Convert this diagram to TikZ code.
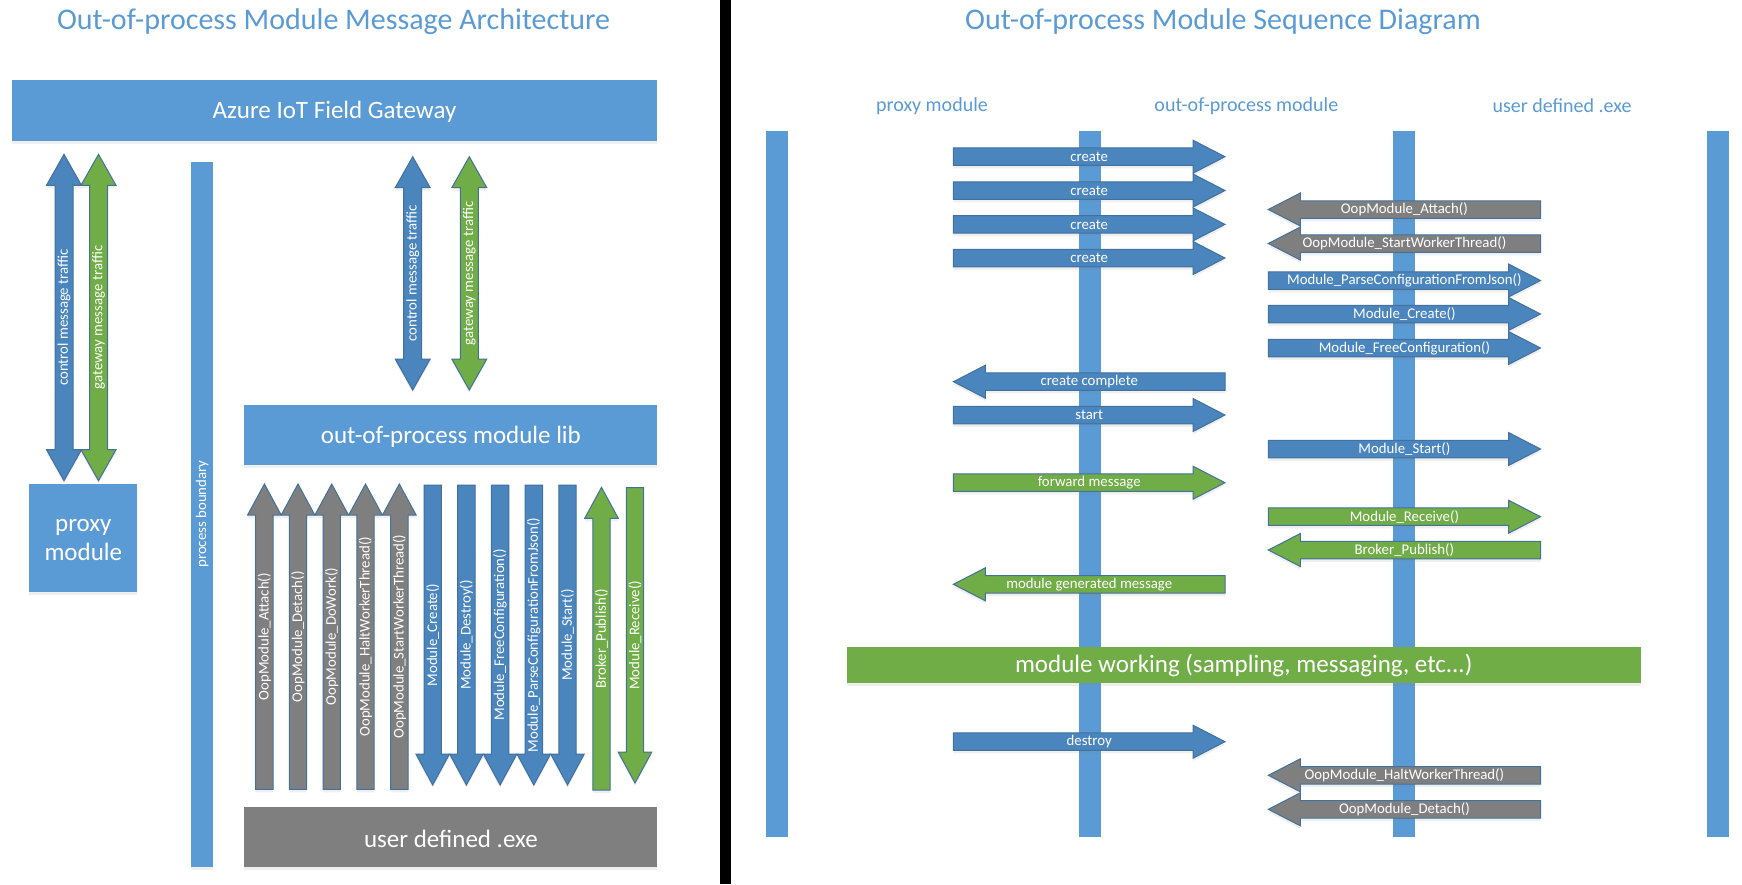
\documentclass[tikz,border=0pt]{standalone}
\usepackage{fontspec}
\setmainfont{Carlito}
\usetikzlibrary{shadows}
\definecolor{lblue}{HTML}{5B9BD5}
\definecolor{ablue}{HTML}{4A85BE}
\definecolor{edgeblue}{HTML}{41719C}
\definecolor{agray}{HTML}{7F7F7F}
\definecolor{agreen}{HTML}{70AD47}
\tikzset{
  arr/.style={draw=edgeblue, line width=1pt, line join=miter,
    drop shadow={opacity=0.12, shadow xshift=0pt, shadow yshift=-3pt}},
  box/.style={fill=lblue, drop shadow={opacity=0.12, shadow xshift=0pt, shadow yshift=-3pt}},
  lbl/.style={text=white, inner sep=0pt, font=\fontsize{14.8}{16}\selectfont},
  big/.style={text=white, inner sep=0pt, font=\fontsize{25}{29}\selectfont, align=center},
  ttl/.style={text=lblue, inner sep=0pt, font=\fontsize{30}{34}\selectfont},
  col/.style={text=lblue, inner sep=0pt, font=\fontsize{20}{23}\selectfont},
  life/.style={fill=lblue}
}
% right-pointing: name, xtail, xtip, y, colour, label
\newcommand\rarr[6]{%
  \filldraw[arr,fill=#5] (#2,#4-8.75) -- ({#3-32},#4-8.75) -- ({#3-32},#4-16.5) -- (#3,#4)
    -- ({#3-32},#4+16.5) -- ({#3-32},#4+8.75) -- (#2,#4+8.75) -- cycle;
  \node[lbl] (#1) at ({(#2+#3)/2},#4) {#6};}
% left-pointing: name, xtip, xtail, y, colour, label
\newcommand\larr[6]{%
  \filldraw[arr,fill=#5] (#3,#4-8.75) -- ({#2+32},#4-8.75) -- ({#2+32},#4-16.5) -- (#2,#4)
    -- ({#2+32},#4+16.5) -- ({#2+32},#4+8.75) -- (#3,#4+8.75) -- cycle;
  \node[lbl] (#1) at ({(#2+#3)/2},#4) {#6};}
% up-pointing: name, xc, ytip, ytail, colour, label
\newcommand\uarr[6]{%
  \filldraw[arr,fill=#5] (#2-8.7,#4) -- (#2-8.7,#3+31) -- (#2-16.8,#3+31) -- (#2,#3)
    -- (#2+16.8,#3+31) -- (#2+8.7,#3+31) -- (#2+8.7,#4) -- cycle;
  \node[lbl,rotate=90] (#1) at (#2,{(#3+#4)/2}) {#6};}
% down-pointing: name, xc, ytail, ytip, colour, label
\newcommand\darr[6]{%
  \filldraw[arr,fill=#5] (#2-8.7,#3) -- (#2-8.7,#4-31) -- (#2-16.8,#4-31) -- (#2,#4)
    -- (#2+16.8,#4-31) -- (#2+8.7,#4-31) -- (#2+8.7,#3) -- cycle;
  \node[lbl,rotate=90] (#1) at (#2,{(#3+#4)/2}) {#6};}
% double vertical: name, xc, ytop, ybottom, colour, label
\newcommand\udarr[6]{%
  \filldraw[arr,fill=#5] (#2,#3) -- (#2+17.5,#3+31) -- (#2+9,#3+31) -- (#2+9,#4-31)
    -- (#2+17.5,#4-31) -- (#2,#4) -- (#2-17.5,#4-31) -- (#2-9,#4-31) -- (#2-9,#3+31)
    -- (#2-17.5,#3+31) -- cycle;
  \node[lbl,rotate=90] (#1) at (#2,{(#3+#4)/2}) {#6};}
\begin{document}
\begin{tikzpicture}[x=1pt,y=-1pt]
\useasboundingbox (0,0) rectangle (1742,884);
\fill[white] (0,0) rectangle (1742,884);
\fill[black] (720,0) rectangle (731,884);

% ---------- left panel ----------
\node[ttl] (ltitle) at (333.6,21.7) {Out-of-process Module Message Architecture};
\path[box] (11.6,80) rectangle (657.4,140.7);
\node[big] (azure) at (334.5,112.3) {Azure IoT Field Gateway};
\path[box] (244.4,405) rectangle (657.4,465);
\node[big] (lib) at (450.9,437) {out-of-process module lib};
\path[box,fill=agray] (244.4,806.7) rectangle (657.4,867.3);
\node[big] (exe) at (450.9,838.5) {user defined .exe};
\path[box] (29.3,484) rectangle (137.3,591.7);
\node[big] (proxy) at (83.3,540) {proxy\\module};
\path[box] (191,162.3) rectangle (213.2,867.3);
\node[lbl,rotate=90] (pb) at (202.1,514) {process boundary};

\udarr{ctl1}{64}{154.3}{480.7}{ablue}{control message traffic}
\udarr{gw1}{98.5}{154.3}{480.7}{agreen}{gateway message traffic}
\udarr{ctl2}{412.7}{156.7}{390}{ablue}{control message traffic}
\udarr{gw2}{469.3}{156.7}{390}{agreen}{gateway message traffic}

\uarr{v1}{264.4}{484}{789.3}{agray}{OopModule\_Attach()}
\uarr{v2}{298}{484}{789.3}{agray}{OopModule\_Detach()}
\uarr{v3}{331.7}{484}{789.3}{agray}{OopModule\_DoWork()}
\uarr{v4}{365.5}{484}{789.3}{agray}{OopModule\_HaltWorkerThread()}
\uarr{v5}{399.3}{484}{789.3}{agray}{OopModule\_StartWorkerThread()}
\darr{v6}{432.7}{485}{785}{ablue}{Module\_Create()}
\darr{v7}{466.4}{485}{785}{ablue}{Module\_Destroy()}
\darr{v8}{500.1}{485}{785}{ablue}{Module\_FreeConfiguration()}
\darr{v9}{533.8}{485}{785}{ablue}{Module\_ParseConfigurationFromJson()}
\darr{v10}{567.5}{485}{785}{ablue}{Module\_Start()}
\uarr{v11}{601.5}{487.3}{790}{agreen}{Broker\_Publish()}
\darr{v12}{635}{487.7}{783}{agreen}{Module\_Receive()}

% ---------- right panel ----------
\node[ttl] (rtitle) at (1223,21.7) {Out-of-process Module Sequence Diagram};
\node[col] (c1) at (932,106) {proxy module};
\node[col] (c2) at (1246.4,106) {out-of-process module};
\node[col] (c3) at (1562,106) {user defined .exe};

\path[life] (766,131) rectangle (788,836.7);
\path[life] (1079,131) rectangle (1101,836.7);
\path[life] (1393,131) rectangle (1415,836.7);
\path[life] (1707,131) rectangle (1729,836.7);

\rarr{s1}{953.4}{1225}{156.7}{ablue}{create}
\rarr{s2}{953.4}{1225}{190.5}{ablue}{create}
\rarr{s3}{953.4}{1225}{224.4}{ablue}{create}
\rarr{s4}{953.4}{1225}{258}{ablue}{create}
\larr{s5}{1268.3}{1540.5}{209.5}{agray}{OopModule\_Attach()}
\larr{s6}{1268.3}{1540.5}{243.5}{agray}{OopModule\_StartWorkerThread()}
\rarr{s7}{1268.3}{1540.5}{280.5}{ablue}{Module\_ParseConfigurationFromJson()}
\rarr{s8}{1268.3}{1540.5}{314}{ablue}{Module\_Create()}
\rarr{s9}{1268.3}{1540.5}{348}{ablue}{Module\_FreeConfiguration()}
\larr{s10}{953.4}{1225}{381.7}{ablue}{create complete}
\rarr{s11}{953.4}{1225}{415}{ablue}{start}
\rarr{s12}{1268.3}{1540.5}{449}{ablue}{Module\_Start()}
\rarr{s13}{953.4}{1225}{482.7}{agreen}{forward message}
\rarr{s14}{1268.3}{1540.5}{516.7}{agreen}{Module\_Receive()}
\larr{s15}{1268.3}{1540.5}{550}{agreen}{Broker\_Publish()}
\larr{s16}{953.4}{1225}{584.3}{agreen}{module generated message}

\path[box,fill=agreen] (847,647.3) rectangle (1640.5,682.7);
\node[big] (work) at (1243.7,665) {module working (sampling, messaging, etc...)};

\rarr{s17}{953.4}{1225}{741.7}{ablue}{destroy}
\larr{s18}{1268.3}{1540.5}{775.3}{agray}{OopModule\_HaltWorkerThread()}
\larr{s19}{1268.3}{1540.5}{809.3}{agray}{OopModule\_Detach()}
\end{tikzpicture}
\end{document}
